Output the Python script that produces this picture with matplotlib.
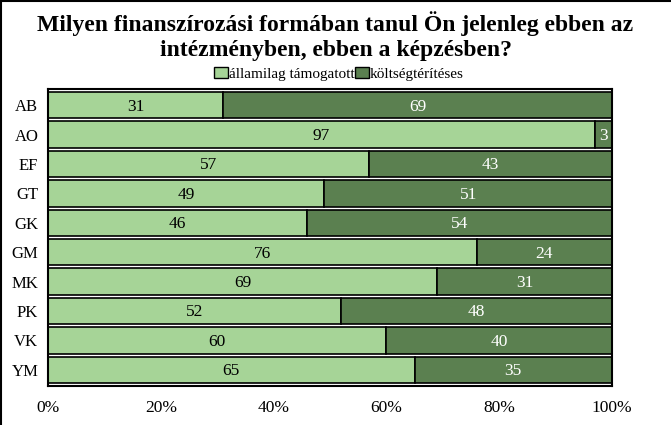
import matplotlib
matplotlib.use("Agg")
import matplotlib.pyplot as plt
from matplotlib.lines import Line2D
from matplotlib.patches import Patch

categories = ["AB", "AO", "EF", "GT", "GK", "GM", "MK", "PK", "VK", "YM"]
allami = [31, 97, 57, 49, 46, 76, 69, 52, 60, 65]
koltseg = [69, 3, 43, 51, 54, 24, 31, 48, 40, 35]
series_names = ["államilag támogatott", "költségtérítéses"]
xticks = [0, 20, 40, 60, 80, 100]
xtick_labels = ["0%", "20%", "40%", "60%", "80%", "100%"]

light = "#a6d497"
dark = "#5b8050"

plt.rcParams["font.family"] = ["Liberation Serif", "DejaVu Serif"]

fig = plt.figure(figsize=(6.71, 4.25), dpi=100)
ax = fig.add_axes([48/671, 1-386/425, (612-48)/671, (386-89)/425])

y = list(range(len(categories)))
h = 0.9
ax.barh(y, allami, height=h, color=light, edgecolor="black", linewidth=1.2)
ax.barh(y, koltseg, left=allami, height=h, color=dark, edgecolor="black", linewidth=1.2)

for i in y:
    a = allami[i]; k = koltseg[i]
    ax.text(a/2, i + 0.05, str(a), ha="center", va="center", fontsize=12.5, color="black")
    ax.text(a + k/2, i + 0.05, str(k), ha="center", va="center", fontsize=12.5, color="white")

ax.set_xlim(0, 100)
ax.set_ylim(len(categories)-0.45, -0.55)
ax.set_yticks(y)
ax.set_yticklabels(categories, fontsize=12)
ax.set_xticks(xticks)
ax.set_xticklabels(xtick_labels, fontsize=12.5)
ax.tick_params(length=0)
ax.tick_params(axis="y", pad=7)
ax.tick_params(axis="x", pad=10)
for s in ax.spines.values():
    s.set_linewidth(1.5)
    s.set_color("black")

fig.text(0.5, 1-36/425, "Milyen finanszírozási formában tanul Ön jelenleg ebben az\nintézményben, ebben a képzésben?",
         ha="center", va="center", fontsize=17, fontweight="bold", linespacing=1.2)

handles = [Patch(facecolor=light, edgecolor="black"), Patch(facecolor=dark, edgecolor="black")]
fig.legend(handles, series_names, loc="center", bbox_to_anchor=(339/671, 1-74/425), ncol=2,
           frameon=False, fontsize=11, handlelength=0.9, handleheight=0.7, handletextpad=0.1,
           columnspacing=0.0, borderpad=0)

fig.add_artist(Line2D([0.002, 0.002], [0, 1], transform=fig.transFigure, color="black", linewidth=1.5))
fig.add_artist(Line2D([0, 1], [0.998, 0.998], transform=fig.transFigure, color="black", linewidth=1.5))

fig.savefig("out.png", dpi=100)
